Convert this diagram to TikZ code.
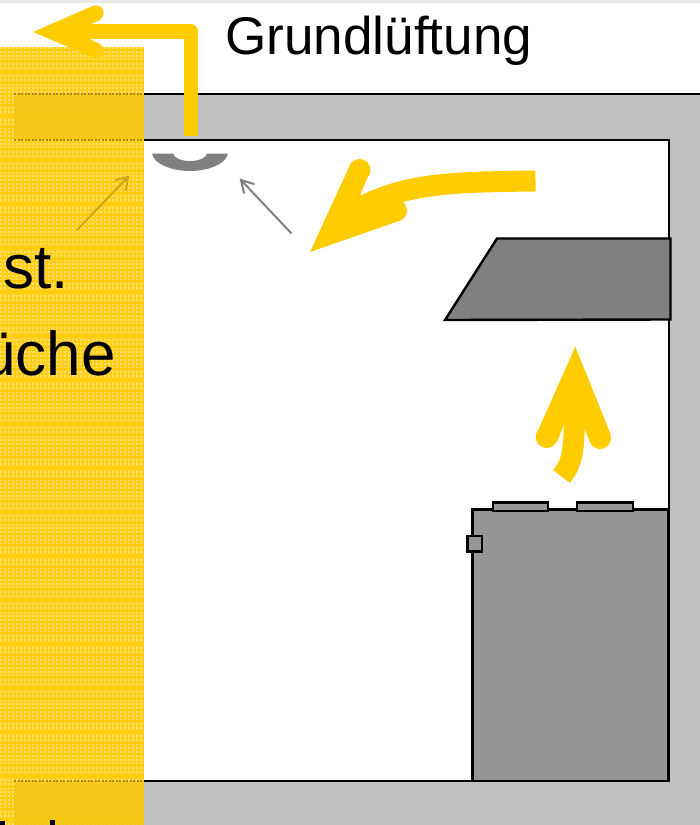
\documentclass[tikz,border=0pt]{standalone}
\usepackage{fontspec}
\setmainfont{Liberation Sans}
\definecolor{airyellow}{HTML}{FFCC00}
\definecolor{wallgrey}{HTML}{C0C0C0}
\definecolor{hoodgrey}{HTML}{808080}
\definecolor{stovegrey}{HTML}{969696}
\definecolor{veilbase}{HTML}{FFCF1C}
\definecolor{veildot}{HTML}{FFE070}
\definecolor{veilband}{HTML}{F5C518}
\definecolor{veilline}{HTML}{A88A10}
\tikzset{
  x=1pt,y=-1pt,
  wall/.style={fill=wallgrey,draw=none},
  wallline/.style={draw=black,line width=2.7pt},
  airshaft/.style={draw=airyellow,line cap=butt,line join=round},
  outline/.style={draw=black,line width=2.4pt,line join=miter},
  thin arrow/.style={draw=hoodgrey,line width=2pt},
  veiled arrow/.style={draw=veilline!60!veilbase,line width=2pt},
  veiled line/.style={draw=veilline,line width=2.7pt,dash pattern=on 2pt off 1.5pt},
  label/.style={font=\fontsize{53.1pt}{60pt}\selectfont,text=black,inner sep=0pt,anchor=base west},
  big label/.style={font=\fontsize{62pt}{70pt}\selectfont,text=black,inner sep=0pt,anchor=base east}
}
\begin{document}
\begin{tikzpicture}
\useasboundingbox (0,0) rectangle (700,825);
\fill[white] (0,0) rectangle (700,825);
\fill[black!9] (0,0) rectangle (700,3);
% wall
\path[wall] (143,94) rectangle (700,825);
\fill[white] (143,140) rectangle (669,781);
\draw[wallline] (143,94) -- (700,94);
\draw[wallline] (143,140) -- (669,140) -- (669,781) -- (143,781);
% hood
\draw[outline,fill=hoodgrey] (497,238.5) -- (670.5,238.5) -- (670.5,319.5) -- (445,320) -- cycle;
% stove
\draw[outline,fill=stovegrey] (472.5,509.5) rectangle (668.5,781);
\draw[outline,fill=stovegrey] (493,502.5) rectangle (548,511);
\draw[outline,fill=stovegrey] (577,502.5) rectangle (633,511);
\draw[outline,fill=stovegrey] (467.5,536) rectangle (482,551.5);
% ceiling vent
\fill[hoodgrey] (152,153.5) -- (173,153.5) .. controls (175,163.5) and (205,163.5) .. (207,153.5) -- (228,153.5)
  .. controls (226,165) and (206,171) .. (190,171) .. controls (174,171) and (154,165) .. (152,153.5) -- cycle;
% thin arrow, right of the veil
\draw[thin arrow] (291.5,233.5) -- (241,180);
\draw[thin arrow,line cap=round] (254,184) -- (241,180) -- (244,193);
% yellow veil with its woven texture
\fill[veilbase] (0,47) rectangle (143.5,825);
\begin{scope}
\clip (0,47) rectangle (143.5,825);
\foreach \vx in {1,5,...,145}{
  \draw[veildot,line width=2pt,dash pattern=on 2pt off 2pt] (\vx,47) -- (\vx,825);
}
\foreach \vy in {50,61,...,825}{
  \draw[airyellow,line width=1.4pt] (0,\vy) -- (143.5,\vy);
}
\end{scope}
\fill[veilband,opacity=0.85] (14,94) rectangle (143.5,140);
\fill[veilband,opacity=0.85] (14,781) rectangle (143.5,825);
\draw[veiled line] (14,94) -- (143.5,94);
\draw[veiled line] (14,140) -- (143.5,140);
\draw[veiled line] (14,781) -- (143.5,781);
% thin arrow, seen through the veil
\draw[veiled arrow] (77,230) -- (128,177);
\draw[veiled arrow,line cap=round] (116,180) -- (128,177) -- (126,190);
% flow arrow out of the vent
\draw[airshaft,line width=14.5pt] (191,136) -- (191,31.7) -- (85,31.7);
\fill[airyellow] (33,32) -- (92,6.3) -- (100,20) -- (90,24.5) -- (90,39) -- (100,44) -- (93,57.5) -- cycle;
\fill[airyellow] (96,13) circle[radius=7.6] (96,50.5) circle[radius=7.6];
% flow arrow from the hood
\draw[airshaft,line width=21pt] (535.5,181) .. controls (450,182) and (405,183) .. (355,210);
\fill[airyellow] (310,252) -- (350,165) -- (369,174) -- (360,195) -- (400,200) -- (399,221) -- cycle;
\fill[airyellow] (359.5,170) circle[radius=11] (396,210.5) circle[radius=11];
% flow arrow from the stove
\draw[airshaft,line width=21pt] (561.5,476.5) .. controls (573,462) and (574,450) .. (574.5,415);
\fill[airyellow] (575.3,346.7) -- (536,435) -- (557,442) -- (563,427) -- (584,427) -- (590,442) -- (611,435) -- cycle;
\fill[airyellow] (546.7,437) circle[radius=11] (600,438) circle[radius=11];
% texts
\node[label] (grund) at (225,54) {Grundlüftung};
\node[big label] (st) at (69,288) {st.};
\node[big label] (kueche) at (116,375) {üche};
\fill[black] (0,821) rectangle (4.5,825);
\fill[black] (49.5,820) rectangle (55,825);
\end{tikzpicture}
\end{document}
